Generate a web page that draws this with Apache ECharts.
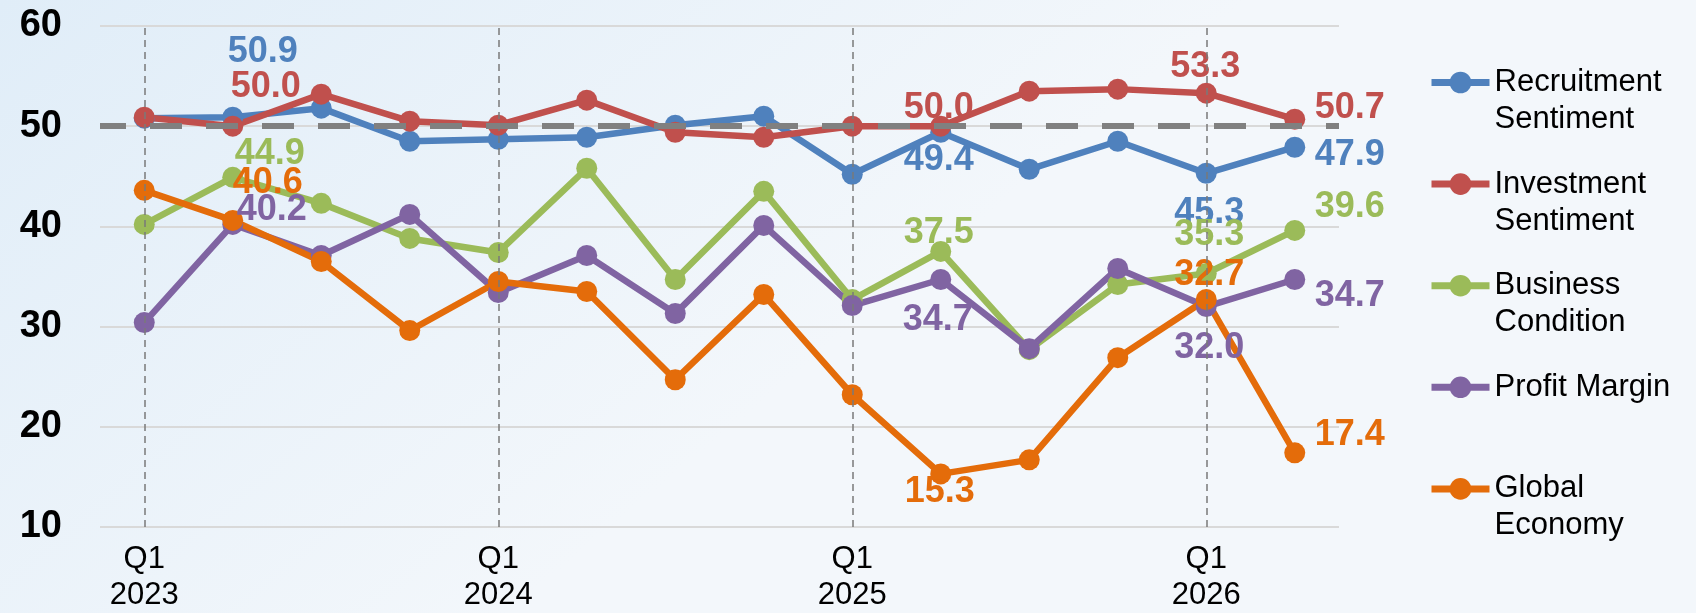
<!DOCTYPE html>
<html>
<head>
<meta charset="utf-8">
<title>Sentiment index</title>
<style>
  html, body { margin: 0; padding: 0; }
  #chart { width: 1696px; height: 613px; }
</style>
<script src="https://cdn.jsdelivr.net/npm/echarts@6/dist/echarts.min.js"></script>
</head>
<body>
<div id="chart"></div>
<script>
// quarters, Q1 2023 .. Q2 2026
const quarters = [
  'Q1 2023', 'Q2 2023', 'Q3 2023', 'Q4 2023',
  'Q1 2024', 'Q2 2024', 'Q3 2024', 'Q4 2024',
  'Q1 2025', 'Q2 2025', 'Q3 2025', 'Q4 2025',
  'Q1 2026', 'Q2 2026'
]
const recruitment = [50.8, 50.9, 51.8, 48.5, 48.7, 48.9, 50.1, 51.0, 45.2, 49.4, 45.7, 48.5, 45.3, 47.9]
const investment = [50.9, 50.0, 53.2, 50.5, 50.1, 52.6, 49.4, 48.9, 50.0, 50.0, 53.5, 53.7, 53.3, 50.7]
const business = [40.2, 44.9, 42.3, 38.8, 37.4, 45.8, 34.7, 43.5, 32.7, 37.5, 27.7, 34.2, 35.3, 39.6]
const profit = [30.4, 40.2, 37.1, 41.2, 33.4, 37.1, 31.3, 40.1, 32.1, 34.7, 27.8, 35.8, 32.0, 34.7]
const globalEco = [43.6, 40.6, 36.5, 29.6, 34.5, 33.5, 24.7, 33.2, 23.2, 15.3, 16.7, 26.9, 32.7, 17.4]
const names = ['Recruitment\nSentiment', 'Investment\nSentiment', 'Business\nCondition', 'Profit Margin', 'Global\nEconomy']
const threshold = 50

const colors = ['#4F81BD', '#C0504D', '#9BBB59', '#8064A2', '#E46C0A']
const font = '"Liberation Sans", Arial, sans-serif'

// where each value label sits, relative to its point (px)
const labelOffsets = [
  { 1: [30, -65], 9: [-2, 28], 12: [3, 40], 13: [55, 8] },
  { 1: [33, -39], 9: [-2, -18], 12: [-1, -26], 13: [55, -11] },
  { 1: [37, -23], 9: [-2, -18], 12: [3, -38], 13: [55, -23] },
  { 1: [39, -14], 9: [-3, 41], 12: [3, 42], 13: [55, 17] },
  { 1: [35, -37], 9: [-1, 18], 12: [3, -24], 13: [55, -18] }
]

const allData = [recruitment, investment, business, profit, globalEco]

const lineSeries = allData.map((vals, s) => ({
  name: names[s],
  type: 'line',
  z: 2,
  symbol: 'circle',
  symbolSize: 21,
  lineStyle: { width: 6.5, color: colors[s] },
  itemStyle: { color: colors[s], borderWidth: 0 },
  label: { show: false },
  data: vals.map((v, i) => {
    const off = labelOffsets[s][i]
    if (!off) return v
    return {
      value: v,
      label: {
        show: true,
        position: 'inside',
        offset: off,
        formatter: p => p.value.toFixed(1),
        color: colors[s],
        fontFamily: font,
        fontWeight: 'bold',
        fontSize: 36
      }
    }
  })
}))

const chart = echarts.init(document.getElementById('chart'))
chart.setOption({
  backgroundColor: {
    type: 'linear', x: 0, y: 0, x2: 0.3, y2: 1,
    colorStops: [{ offset: 0, color: '#e0edf8' }, { offset: 1, color: '#f3f7fb' }]
  },
  animation: false,
  color: colors,
  grid: { left: 100, right: 357, top: 26, bottom: 83, containLabel: false },
  legend: {
    orient: 'vertical',
    left: 1428,
    top: 27,
    padding: 0,
    itemGap: -9.4,
    itemWidth: 58,
    itemHeight: 27,
    lineStyle: { width: 7 },
    // blank lines keep the marker level with the first line of each name
    formatter: n => n.includes('\n') ? '\n' + n : '\n' + n + '\n',
    textStyle: { fontFamily: font, fontSize: 31, lineHeight: 37, color: '#000' },
    data: names
  },
  xAxis: {
    type: 'category',
    data: quarters,
    boundaryGap: true,
    axisLine: { show: false },
    axisTick: { show: false },
    splitLine: { show: false },
    axisLabel: {
      interval: i => i % 4 === 0,
      formatter: v => v.replace(' ', '\n'),
      fontFamily: font,
      fontSize: 31,
      lineHeight: 36,
      color: '#000',
      margin: 14
    }
  },
  yAxis: {
    type: 'value',
    min: 10,
    max: 60,
    interval: 10,
    axisLine: { show: false },
    axisTick: { show: false },
    splitLine: { lineStyle: { color: '#d9d9d9', width: 2 } },
    axisLabel: {
      fontFamily: font,
      fontSize: 38,
      fontWeight: 'bold',
      color: '#000',
      margin: 38
    }
  },
  series: [
    {
      name: '_quarters',
      type: 'line',
      z: 1,
      data: quarters.map(() => null),
      markLine: {
        silent: true,
        symbol: 'none',
        label: { show: false },
        lineStyle: { type: [7, 5], color: '#7a7a7a', width: 1.5 },
        data: quarters.filter((q, i) => i % 4 === 0).map(q => ({ xAxis: q }))
      }
    },
    ...lineSeries,
    {
      name: '_threshold',
      type: 'line',
      z: 5,
      data: quarters.map(() => null),
      markLine: {
        silent: true,
        symbol: 'none',
        label: { show: false },
        lineStyle: { type: [32, 24], dashOffset: 6, color: '#808080', width: 6 },
        data: [{ yAxis: threshold }]
      }
    }
  ]
})
</script>
</body>
</html>
